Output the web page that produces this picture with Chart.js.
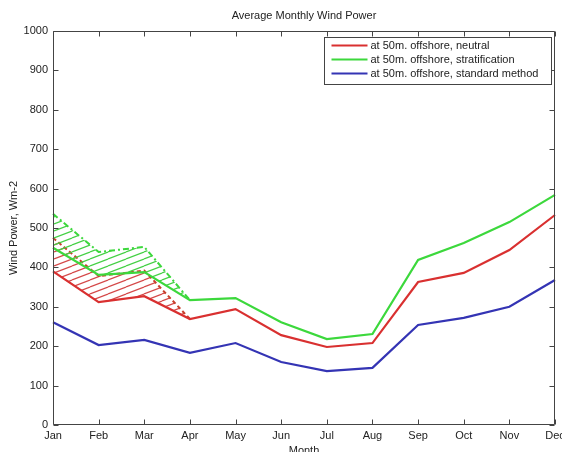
<!DOCTYPE html>
<html>
<head>
<meta charset="utf-8">
<script src="https://cdn.jsdelivr.net/npm/chart.js@4.4.0/dist/chart.umd.min.js"></script>
<style>
  html, body { margin: 0; padding: 0; background: #fff; }
  #wrap { width: 562px; height: 452px; }
</style>
</head>
<body>
<div id="wrap"><canvas id="c" width="562" height="452"></canvas></div>
<script>
// Monthly average wind power density at 50 m, offshore (W m-2)
const months = ['Jan', 'Feb', 'Mar', 'Apr', 'May', 'Jun', 'Jul', 'Aug', 'Sep', 'Oct', 'Nov', 'Dec'];
const neutral        = [390, 312, 327, 269, 294, 228, 198, 208, 363, 386, 444, 533];
const stratification = [450, 381, 388, 317, 322, 261, 218, 231, 419, 462, 515, 584];
const standardMethod = [261, 203, 216, 183, 208, 160, 137, 145, 254, 272, 300, 368];
// Upper bounds of the winter uncertainty bands (Jan-Apr)
const stratificationUpper = [536, 439, 452, 317, null, null, null, null, null, null, null, null];
const neutralUpper        = [475, 378, 392, 269, null, null, null, null, null, null, null, null];
const yTicks = [0, 100, 200, 300, 400, 500, 600, 700, 800, 900, 1000];

const seriesLabels = [
  'at 50m. offshore, neutral',
  'at 50m. offshore, stratification',
  'at 50m. offshore, standard method'
];

const RED = '#d93030';
const GREEN = '#3cd83c';
const BLUE = '#3434b4';
const AXIS = '#444';
const TEXT = '#222';
const FONT = "'Liberation Sans', Arial, sans-serif";

function hatch(color) {
  const w = 18, h = 7;
  const c = document.createElement('canvas');
  c.width = w; c.height = h;
  const g = c.getContext('2d');
  g.strokeStyle = color;
  g.lineWidth = 1.2;
  for (const dy of [-h, 0, h]) {
    g.beginPath();
    g.moveTo(0, h + dy);
    g.lineTo(w, dy);
    g.stroke();
  }
  return g.createPattern(c, 'repeat');
}

// Axes box with inward tick marks on all four sides
const boxTicks = {
  id: 'boxTicks',
  afterDatasetsDraw(chart) {
    const { ctx, chartArea: a, scales: { x, y } } = chart;
    const L = Math.round(a.left) + 0.5, R = Math.round(a.right) - 0.5;
    const T = Math.round(a.top) + 0.5, B = Math.round(a.bottom) - 0.5;
    const len = 5;
    ctx.save();
    ctx.strokeStyle = AXIS;
    ctx.lineWidth = 1;
    ctx.beginPath();
    ctx.rect(L, T, R - L, B - T);
    months.forEach((m, i) => {
      const px = Math.round(x.getPixelForValue(i)) + 0.5;
      ctx.moveTo(px, B); ctx.lineTo(px, B - len);
      ctx.moveTo(px, T); ctx.lineTo(px, T + len);
    });
    yTicks.forEach(v => {
      const py = Math.round(y.getPixelForValue(v)) + 0.5;
      ctx.moveTo(L, py); ctx.lineTo(L + len, py);
      ctx.moveTo(R, py); ctx.lineTo(R - len, py);
    });
    ctx.stroke();
    ctx.restore();
  }
};

// Boxed legend in the upper right corner of the plot
const boxedLegend = {
  id: 'boxedLegend',
  afterDraw(chart) {
    const { ctx, chartArea: a } = chart;
    const w = 227, h = 47;
    const left = Math.round(a.right) - 231 + 0.5;
    const top = Math.round(a.top) + 6 + 0.5;
    ctx.save();
    ctx.fillStyle = '#fff';
    ctx.fillRect(left, top, w, h);
    ctx.strokeStyle = AXIS;
    ctx.lineWidth = 1;
    ctx.strokeRect(left, top, w, h);
    ctx.font = '11px ' + FONT;
    ctx.textBaseline = 'middle';
    ctx.textAlign = 'left';
    [0, 1, 2].forEach(i => {
      const ds = chart.data.datasets[i];
      const yy = top + 8 + i * 14;
      ctx.strokeStyle = ds.borderColor;
      ctx.lineWidth = 2.2;
      ctx.beginPath();
      ctx.moveTo(left + 7, yy);
      ctx.lineTo(left + 43, yy);
      ctx.stroke();
      ctx.fillStyle = TEXT;
      ctx.fillText(ds.label, left + 46, yy);
    });
    ctx.restore();
  }
};

new Chart(document.getElementById('c'), {
  type: 'line',
  data: {
    labels: months,
    datasets: [
      { label: seriesLabels[0], data: neutral, borderColor: RED, backgroundColor: RED, borderWidth: 2.2, fill: false },
      { label: seriesLabels[1], data: stratification, borderColor: GREEN, backgroundColor: GREEN, borderWidth: 2.2, fill: false },
      { label: seriesLabels[2], data: standardMethod, borderColor: BLUE, backgroundColor: BLUE, borderWidth: 2.2, fill: false },
      { label: 'stratification upper', data: stratificationUpper, borderColor: GREEN, backgroundColor: hatch('#44d044'),
        borderWidth: 2, borderDash: [6, 3, 2, 3], fill: { target: 1 } },
      { label: 'neutral upper', data: neutralUpper, borderColor: '#c8402c', backgroundColor: hatch('#d44848'),
        borderWidth: 2, borderDash: [4, 3], fill: { target: 0 } }
    ]
  },
  options: {
    responsive: false,
    animation: false,
    devicePixelRatio: 1,
    elements: { point: { radius: 0, hoverRadius: 0 }, line: { tension: 0 } },
    layout: { padding: { left: 0, right: 7, top: 0, bottom: 0 } },
    plugins: {
      legend: { display: false },
      tooltip: { enabled: false },
      title: {
        display: true,
        fullSize: false,
        text: 'Average Monthly Wind Power',
        color: TEXT,
        font: { family: FONT, size: 11, weight: 'normal' },
        padding: { top: 9, bottom: 8.8 }
      }
    },
    scales: {
      x: {
        type: 'category',
        offset: false,
        grid: { display: false, drawTicks: false },
        border: { display: false },
        ticks: { color: TEXT, font: { family: FONT, size: 11 }, padding: 4, maxRotation: 0, autoSkip: false },
        title: { display: true, text: 'Month', color: TEXT, font: { family: FONT, size: 11 }, padding: { top: 0, bottom: -6 } },
        afterFit(s) { s.height = 27; s.paddingLeft = 0; s.paddingRight = 0; }
      },
      y: {
        min: 0,
        max: 1000,
        grid: { display: false, drawTicks: false },
        border: { display: false },
        afterBuildTicks(s) { s.ticks = yTicks.map(v => ({ value: v })); },
        ticks: { color: TEXT, font: { family: FONT, size: 11 }, padding: 5, callback: v => String(v) },
        title: { display: true, text: 'Wind Power, Wm-2', color: TEXT, font: { family: FONT, size: 11 }, padding: { top: 7, bottom: 0 } },
        afterFit(s) { s.width = 53; s.paddingTop = 0; s.paddingBottom = 0; }
      }
    }
  },
  plugins: [boxTicks, boxedLegend]
});
</script>
</body>
</html>
